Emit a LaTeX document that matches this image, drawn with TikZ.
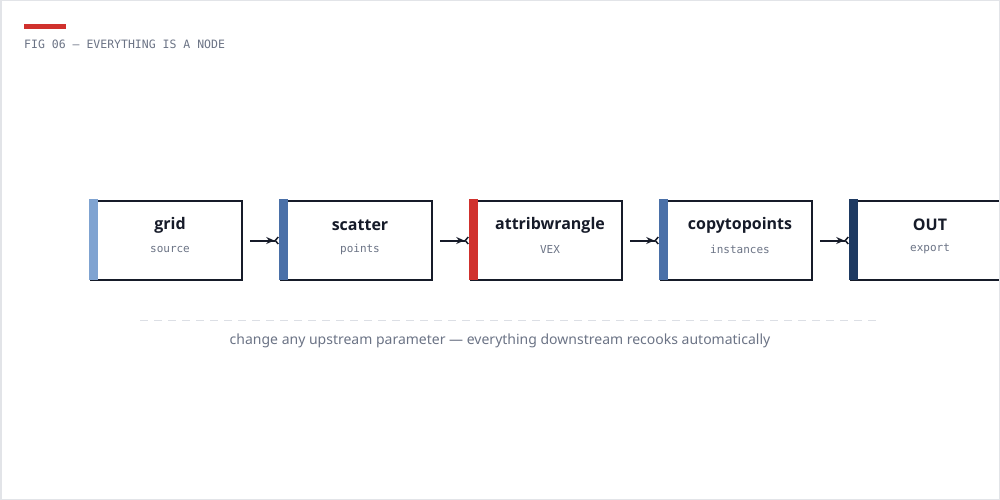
\documentclass[tikz,border=0pt]{standalone}
\usepackage{fontspec}
\setmainfont{Noto Sans}
\newfontfamily\ttlf{Open Sans}
\newfontfamily\monof{DejaVu Sans Mono}
\usetikzlibrary{arrows.meta,positioning}
\definecolor{ink}{HTML}{161B29}
\definecolor{muted}{HTML}{6B7385}
\definecolor{frame}{HTML}{E2E4E8}
\definecolor{dashc}{HTML}{DCDFE5}
\definecolor{accred}{HTML}{D0312D}
\definecolor{acclight}{HTML}{7FA3D1}
\definecolor{accmid}{HTML}{4A70A8}
\definecolor{accdark}{HTML}{1E3A62}
\tikzset{
  nodebox/.style={draw=ink, line width=2pt, fill=white, minimum width=151pt, minimum height=79pt, inner sep=0pt},
  ttl/.style={font=\ttlf\bfseries\fontsize{16}{18}\selectfont, text=ink},
  sub/.style={font=\monof\fontsize{11}{13}\selectfont, text=muted},
  conn/.style={draw=ink, line width=2pt, -{Stealth[length=8pt,width=7pt] Straight Barb[reversed,length=3pt,width=7pt,line width=1.5pt]}},
}
\begin{document}
\begin{tikzpicture}[x=1pt,y=-1pt]
\useasboundingbox (0,0) rectangle (1000,500);
\begin{scope}
\clip (0,0) rectangle (999,499);
% boxes
\foreach \i/\xx/\col/\t/\s in {a/90/acclight/grid/source, b/280/accmid/scatter/points, c/470/accred/attribwrangle/VEX, d/660/accmid/copytopoints/instances, e/850/accdark/OUT/export}{
  \node[nodebox, anchor=north west] (\i) at (\xx,200) {};
  \fill[\col] (\xx-1,199) rectangle (\xx+8,280);
  \node[ttl] (\i t) at (\xx+80,225) {\t};
  \node[sub] (\i s) at (\xx+80,249) {\s};
}
\draw[conn] ([xshift=7pt]a.east) -- ([xshift=-1pt]b.west);
\draw[conn] ([xshift=7pt]b.east) -- ([xshift=-1pt]c.west);
\draw[conn] ([xshift=7pt]c.east) -- ([xshift=-1pt]d.west);
\draw[conn] ([xshift=7pt]d.east) -- ([xshift=-1pt]e.west);
\end{scope}
\draw[frame, line width=1.5pt] (0.75,0.75) rectangle (999.25,499.25);
% header
\fill[accred] (24,24) rectangle (66,29);
\node[anchor=west, text=muted, font=\monof\fontsize{11.5}{13}\selectfont, inner sep=0pt] (hdr) at (24,44) {FIG 06 — EVERYTHING IS A NODE};
% divider and caption
\coordinate (dl) at (140,320);
\coordinate (dr) at (880,320);
\draw[dashc, line width=1pt, dash pattern=on 8pt off 6pt] (dl) -- (dr);
\node[text=muted, font=\fontsize{14}{17}\selectfont, inner sep=0pt] (cap) at (500,341) {change any upstream parameter — everything downstream recooks automatically};
\end{tikzpicture}
\end{document}
